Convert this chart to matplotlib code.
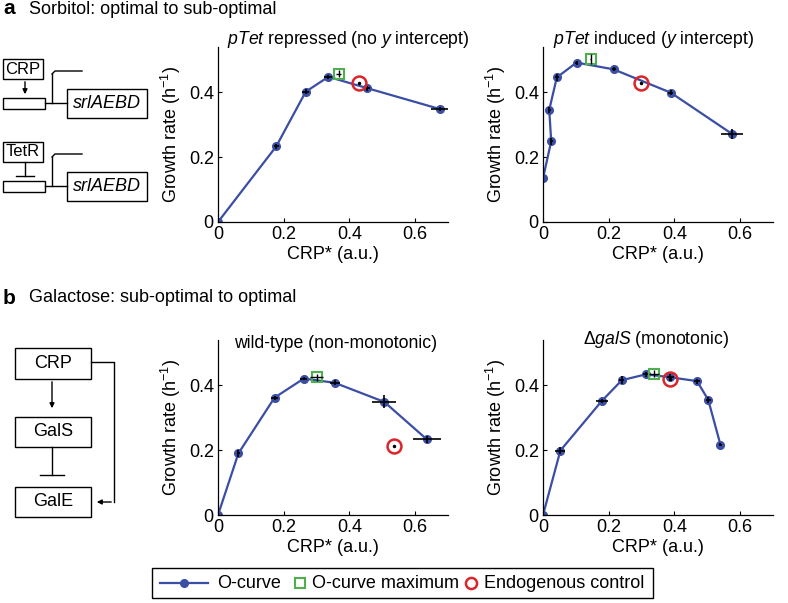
import matplotlib
matplotlib.use("Agg")
import matplotlib.pyplot as plt
from matplotlib.patches import Rectangle

plt.rcParams['font.family'] = ['Liberation Sans', 'DejaVu Sans']
plt.rcParams['mathtext.fontset'] = 'custom'
plt.rcParams['mathtext.rm'] = 'Liberation Sans'
plt.rcParams['mathtext.it'] = 'Liberation Sans:italic'

# O-curve data (CRP*, growth rate) with error bars
a1_x = [0.0, 0.177, 0.267, 0.336, 0.454, 0.677]
a1_y = [0.0, 0.233, 0.402, 0.448, 0.413, 0.348]
a1_xerr = [0.0, 0.008, 0.010, 0.012, 0.008, 0.030]
a1_yerr = [0.0, 0.008, 0.008, 0.006, 0.008, 0.006]
a1_max = (0.367, 0.458, 0.008, 0.012)
a1_endo = (0.429, 0.429)

a2_x = [0.0, 0.025, 0.019, 0.042, 0.102, 0.215, 0.389, 0.575]
a2_y = [0.135, 0.249, 0.346, 0.446, 0.492, 0.471, 0.399, 0.272]
a2_xerr = [0.0, 0.005, 0.005, 0.006, 0.006, 0.006, 0.008, 0.034]
a2_yerr = [0.0, 0.010, 0.010, 0.010, 0.006, 0.006, 0.008, 0.015]
a2_max = (0.145, 0.503, 0.002, 0.014)
a2_endo = (0.299, 0.428)

b1_x = [0.0, 0.062, 0.172, 0.261, 0.355, 0.506, 0.636]
b1_y = [0.0, 0.190, 0.362, 0.421, 0.408, 0.349, 0.233]
b1_xerr = [0.0, 0.005, 0.010, 0.010, 0.015, 0.036, 0.043]
b1_yerr = [0.0, 0.010, 0.006, 0.004, 0.008, 0.020, 0.012]
b1_max = (0.301, 0.425, 0.020, 0.010)
b1_endo = (0.537, 0.213)

b2_x = [0.0, 0.053, 0.179, 0.240, 0.313, 0.388, 0.469, 0.503, 0.540]
b2_y = [0.0, 0.199, 0.352, 0.416, 0.434, 0.425, 0.413, 0.355, 0.217]
b2_xerr = [0.0, 0.015, 0.018, 0.008, 0.010, 0.010, 0.008, 0.008, 0.004]
b2_yerr = [0.0, 0.012, 0.006, 0.012, 0.008, 0.010, 0.008, 0.010, 0.004]
b2_max = (0.339, 0.436, 0.015, 0.010)
b2_endo = (0.388, 0.421)

legend_labels = ['O-curve', 'O-curve maximum', 'Endogenous control']

BLUE = '#3a4ea3'
GREEN = '#4fae4f'
RED = '#d9252b'

W, H = 788, 603
fig = plt.figure(figsize=(7.88, 6.03), dpi=100)


def px_axes(x0, y0, x1, y1):
    # axes box given by pixel corners (top-left origin)
    return fig.add_axes([x0 / W, 1 - y1 / H, (x1 - x0) / W, (y1 - y0) / H])


def panel(ax, x, y, xerr, yerr, mx, endo, title, tx, ty):
    ax.plot(x, y, '-o', color=BLUE, lw=1.6, ms=5.5, zorder=2)
    ax.errorbar(x, y, xerr=xerr, yerr=yerr, fmt='none', ecolor='black',
                elinewidth=1.2, capsize=0, zorder=3)
    ax.plot(mx[0], mx[1], 's', ms=7.5, mfc='none', mec=GREEN, mew=1.5, zorder=4)
    ax.errorbar(mx[0], mx[1], xerr=mx[2], yerr=mx[3], fmt='none', ecolor='black',
                elinewidth=1.0, capsize=0, zorder=4)
    ax.plot(endo[0], endo[1], 'o', ms=10, mfc='none', mec=RED, mew=1.8, zorder=4)
    ax.plot(endo[0], endo[1], '.', ms=3, color='black', zorder=5)
    ax.set_xlim(0, 0.7)
    ax.set_ylim(0, 0.54)
    ax.set_xticks([0, 0.2, 0.4, 0.6])
    ax.set_xticklabels(['0', '0.2', '0.4', '0.6'])
    ax.set_yticks([0, 0.2, 0.4])
    ax.set_yticklabels(['0', '0.2', '0.4'])
    ax.tick_params(direction='in', length=3, labelsize=13, width=0.8, pad=3)
    for s in ['top', 'right']:
        ax.spines[s].set_visible(False)
    for s in ['left', 'bottom']:
        ax.spines[s].set_linewidth(0.9)
    ax.set_xlabel('CRP* (a.u.)', fontsize=13, labelpad=2)
    ax.set_ylabel('Growth rate (h$^{-1}$)', fontsize=13, labelpad=4)
    ax.text(tx, ty, title, transform=ax.transAxes, ha='center', va='center',
            fontsize=12.7)


ax1 = px_axes(218, 47, 448, 222)
panel(ax1, a1_x, a1_y, a1_xerr, a1_yerr, a1_max, a1_endo,
      r'$\it{pTet}$ repressed (no $\it{y}$ intercept)', 0.565, 1.04)
ax2 = px_axes(543, 47, 773, 222)
panel(ax2, a2_x, a2_y, a2_xerr, a2_yerr, a2_max, a2_endo,
      r'$\it{pTet}$ induced ($\it{y}$ intercept)', 0.48, 1.04)
ax3 = px_axes(218, 340, 448, 515)
panel(ax3, b1_x, b1_y, b1_xerr, b1_yerr, b1_max, b1_endo,
      'wild-type (non-monotonic)', 0.51, 0.98)
ax4 = px_axes(543, 340, 773, 515)
panel(ax4, b2_x, b2_y, b2_xerr, b2_yerr, b2_max, b2_endo,
      r'$\Delta\it{galS}$ (monotonic)', 0.49, 1.0)

# overlay in pixel coordinates for schematic diagrams, labels and legend
ov = fig.add_axes([0, 0, 1, 1], zorder=-1)
ov.set_xlim(0, W)
ov.set_ylim(H, 0)
ov.axis('off')

ov.text(3, 9, 'a', fontsize=15, fontweight='bold', va='center')
ov.text(29, 9, 'Sorbitol: optimal to sub-optimal', fontsize=13, va='center')
ov.text(3, 298, 'b', fontsize=15, fontweight='bold', va='center')
ov.text(29, 298, 'Galactose: sub-optimal to optimal', fontsize=13, va='center')

lk = dict(color='black', lw=1.0)


def box(x0, y0, x1, y1, label=None, italic=False, fs=12):
    ov.add_patch(Rectangle((x0, y0), x1 - x0, y1 - y0, fill=False, ec='black', lw=1.0))
    if label:
        ov.text((x0 + x1) / 2, (y0 + y1) / 2, label, ha='center', va='center',
                fontsize=fs, style='italic' if italic else 'normal')


def operon(yt, reg, activate):
    # regulator box, promoter, gene box
    box(3, yt, 43, yt + 20, reg, fs=12)
    pr_y = yt + 39
    if activate:
        ov.annotate('', xy=(25, pr_y - 1), xytext=(25, yt + 20),
                    arrowprops=dict(arrowstyle='-|>', color='black', lw=1.0,
                                    mutation_scale=7))
    else:
        ov.plot([25, 25], [yt + 20, yt + 34], **lk)
        ov.plot([16, 34], [yt + 34, yt + 34], **lk)
    ov.add_patch(Rectangle((3, pr_y), 42, 11, fill=False, ec='black', lw=1.0))
    ov.plot([45, 67], [pr_y + 5, pr_y + 5], **lk)
    ov.plot([52, 52], [pr_y + 5, pr_y - 24], **lk)
    ov.plot([52, 55, 82], [pr_y - 24, pr_y - 27, pr_y - 27], **lk)
    box(67, pr_y - 9, 147, pr_y + 20, 'srlAEBD', italic=True, fs=13)


operon(59, 'CRP', True)
operon(142, 'TetR', False)

box(15, 348, 91, 379, 'CRP', fs=13)
box(15, 417, 91, 447, 'GalS', fs=13)
box(15, 487, 91, 517, 'GalE', fs=13)
ov.annotate('', xy=(52, 411), xytext=(52, 379),
            arrowprops=dict(arrowstyle='-|>', color='black', lw=1.0, mutation_scale=7))
ov.plot([52, 52], [447, 475], **lk)
ov.plot([40, 64], [475, 475], **lk)
ov.plot([91, 114, 114], [362, 362, 502], **lk)
ov.annotate('', xy=(94, 502), xytext=(114, 502),
            arrowprops=dict(arrowstyle='-|>', color='black', lw=1.0, mutation_scale=7))

# legend box at the bottom
ov.add_patch(Rectangle((152, 568), 501, 30, fill=False, ec='black', lw=1.0))
ov.plot([160, 208], [583, 583], color=BLUE, lw=1.6)
ov.plot(184, 583, 'o', color=BLUE, ms=5.5)
ov.text(217, 583, legend_labels[0], fontsize=13, va='center')
ov.plot(300, 583, 's', ms=7.5, mfc='none', mec=GREEN, mew=1.5)
ov.text(312, 583, legend_labels[1], fontsize=13, va='center')
ov.plot(471, 583, 'o', ms=8, mfc='none', mec=RED, mew=1.8)
ov.text(484, 583, legend_labels[2], fontsize=13, va='center')

fig.savefig('out.png', dpi=100)
